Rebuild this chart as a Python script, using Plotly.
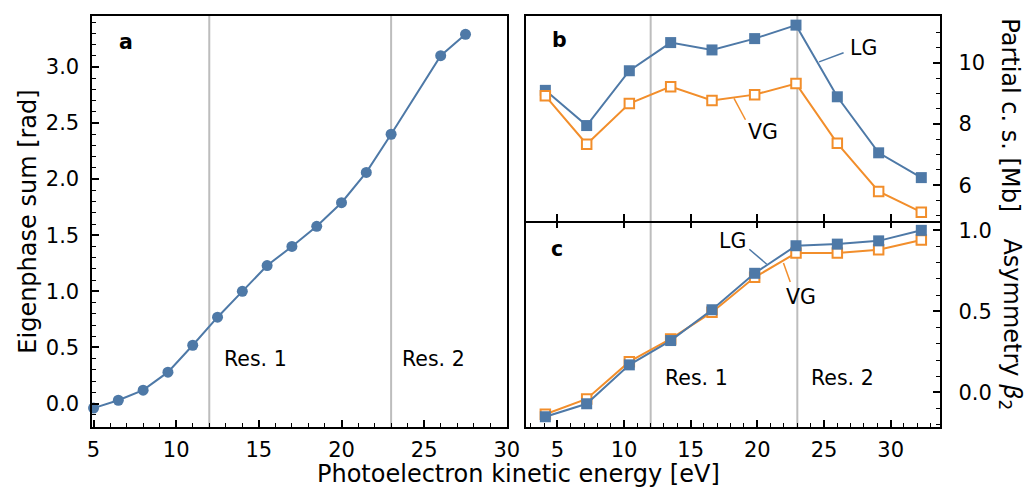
import plotly.graph_objects as go

# ---------------- data ----------------
# panel a: eigenphase sum
energy_a = [5.0, 6.5, 8.0, 9.5, 11.0, 12.5, 14.0, 15.5, 17.0, 18.5, 20.0, 21.5, 23.0, 26.0, 27.5]
eigenphase = [-0.04, 0.03, 0.12, 0.28, 0.52, 0.77, 1.00, 1.23, 1.40, 1.58, 1.79, 2.06, 2.40, 3.10, 3.29]

# panels b & c
energy_bc = [4.1, 7.2, 10.4, 13.5, 16.6, 19.8, 22.9, 26.0, 29.1, 32.3]
pcs_LG = [9.10, 7.95, 9.74, 10.66, 10.42, 10.79, 11.23, 8.89, 7.06, 6.25]
pcs_VG = [8.92, 7.34, 8.67, 9.22, 8.77, 8.96, 9.32, 7.37, 5.80, 5.12]
beta_LG = [-0.15, -0.07, 0.17, 0.32, 0.51, 0.735, 0.905, 0.915, 0.935, 1.00]
beta_VG = [-0.135, -0.04, 0.19, 0.33, 0.495, 0.71, 0.86, 0.86, 0.88, 0.94]

resonances = [12, 23]
res_labels = ["Res. 1", "Res. 2"]

BLUE = "#4e79a7"
ORANGE = "#f28e2b"
GRAY = "#bdbdbd"
FONT = "DejaVu Sans"

W, H = 1036, 488

def px(x):
    return x / W

def py(y):
    return 1 - y / H

fig = go.Figure()

fig.add_trace(go.Scatter(x=energy_a, y=eigenphase, mode="lines+markers",
                         line=dict(color=BLUE, width=2),
                         marker=dict(color=BLUE, size=11, symbol="circle"),
                         cliponaxis=False, xaxis="x", yaxis="y", showlegend=False))

fig.add_trace(go.Scatter(x=energy_bc, y=pcs_LG, mode="lines+markers",
                         line=dict(color=BLUE, width=2),
                         marker=dict(color=BLUE, size=11, symbol="square"),
                         cliponaxis=False, xaxis="x2", yaxis="y2", showlegend=False))
fig.add_trace(go.Scatter(x=energy_bc, y=pcs_VG, mode="lines+markers",
                         line=dict(color=ORANGE, width=2),
                         marker=dict(color="white", size=9.5, symbol="square",
                                     line=dict(color=ORANGE, width=2)),
                         cliponaxis=False, xaxis="x2", yaxis="y2", showlegend=False))

fig.add_trace(go.Scatter(x=energy_bc, y=beta_VG, mode="lines+markers",
                         line=dict(color=ORANGE, width=2),
                         marker=dict(color="white", size=9.5, symbol="square",
                                     line=dict(color=ORANGE, width=2)),
                         cliponaxis=False, xaxis="x3", yaxis="y3", showlegend=False))
fig.add_trace(go.Scatter(x=energy_bc, y=beta_LG, mode="lines+markers",
                         line=dict(color=BLUE, width=2),
                         marker=dict(color=BLUE, size=11, symbol="square"),
                         cliponaxis=False, xaxis="x3", yaxis="y3", showlegend=False))

# ---------------- layout ----------------
dom_a_x = [px(88), px(510.7)]
dom_r_x = [px(530), px(951.7)]
dom_b_y = [py(220), py(14)]
dom_c_y = [py(426.7), py(220)]
dom_a_y = [py(426.7), py(14)]

tickfont = dict(family=FONT, size=21, color="black")
base = dict(showline=True, linecolor="black", linewidth=2,
            showgrid=False, zeroline=False, ticks="inside", ticklen=7,
            tickwidth=1.5, tickcolor="black", tickfont=tickfont)
minor_style = dict(ticks="inside", ticklen=4, tick0=0, tickcolor="black", tickwidth=1.2)

fig.update_layout(
    width=W, height=H, margin=dict(l=0, r=0, t=0, b=0),
    paper_bgcolor="white", plot_bgcolor="white",
    font=dict(family=FONT, size=20, color="black"),
    xaxis=dict(domain=dom_a_x, anchor="y", range=[4.93, 30.03], mirror=True,
               tickvals=[5, 10, 15, 20, 25, 30], ticklabelstandoff=3,
               minor=dict(dtick=1, **minor_style), **base),
    yaxis=dict(domain=dom_a_y, anchor="x", range=[-0.208, 3.454], mirror=True,
               tickvals=[0, 0.5, 1.0, 1.5, 2.0, 2.5, 3.0], tickformat=".1f",
               ticklabelstandoff=7,
               minor=dict(dtick=0.1, **minor_style), **base),
    xaxis2=dict(domain=dom_r_x, anchor="y2", range=[2.67, 33.72], mirror=True,
                tickvals=[5, 10, 15, 20, 25, 30], showticklabels=False, **base),
    yaxis2=dict(domain=dom_b_y, anchor="x2", side="right", range=[4.83, 11.53], mirror=True,
                tickvals=[6, 8, 10], ticklabelstandoff=12,
                minor=dict(dtick=0.5, **minor_style), **base),
    xaxis3=dict(domain=dom_r_x, anchor="y3", range=[2.67, 33.72], mirror=False,
                tickvals=[5, 10, 15, 20, 25, 30], ticklabelstandoff=3,
                minor=dict(dtick=1, **minor_style), **base),
    xaxis4=dict(overlaying="x3", anchor="y3", side="top", range=[2.67, 33.72],
                tickvals=[5, 10, 15, 20, 25, 30], showticklabels=False,
                showline=False, showgrid=False, zeroline=False, ticks="inside",
                ticklen=7, tickwidth=1.5, tickcolor="black"),
    yaxis3=dict(domain=dom_c_y, anchor="x3", side="right", range=[-0.213, 1.057], mirror=True,
                tickvals=[0, 0.5, 1.0], tickformat=".1f", ticklabelstandoff=12,
                minor=dict(dtick=0.1, **minor_style), **base),
)
fig.add_trace(go.Scatter(x=[None], y=[None], xaxis="x4", yaxis="y3", showlegend=False, hoverinfo="skip"))

# resonance lines
shapes = []
for r in resonances:
    for xa, ya in [("x", "y"), ("x2", "y2"), ("x3", "y3")]:
        shapes.append(dict(type="line", xref=xa, yref=ya + " domain", x0=r, x1=r, y0=0, y1=1,
                           line=dict(color=GRAY, width=2), layer="below"))

ann = []
afont = dict(family=FONT, size=20.5, color="black")
C = dict(xanchor="center", yanchor="middle", showarrow=False)
# panel letters
ann.append(dict(x=6.95, y=3.22, xref="x", yref="y", text="<b>a</b>", font=afont, **C))
ann.append(dict(x=5.13, y=10.75, xref="x2", yref="y2", text="<b>b</b>", font=afont, **C))
ann.append(dict(x=4.99, y=0.885, xref="x3", yref="y3", text="<b>c</b>", font=afont, **C))
# resonance labels
for lbl, xa in zip(res_labels, [14.78, 25.56]):
    ann.append(dict(x=xa, y=0.40, xref="x", yref="y", text=lbl, font=afont, **C))
for lbl, xa in zip(res_labels, [15.41, 26.37]):
    ann.append(dict(x=xa, y=0.086, xref="x3", yref="y3", text=lbl, font=afont, **C))

# series labels with connector lines
def label(text, tx, ty, x0, y0, x1, y1, xa, ya, color):
    ann.append(dict(x=tx, y=ty, xref=xa, yref=ya, text=text, font=afont, **C))
    shapes.append(dict(type="line", xref=xa, yref=ya, x0=x0, y0=y0, x1=x1, y1=y1,
                       line=dict(color=color, width=1.5)))

label("LG", 28.0, 10.49, 26.47, 10.33, 24.63, 10.03, "x2", "y2", BLUE)
label("VG", 20.46, 7.73, 19.11, 8.14, 18.25, 8.84, "x2", "y2", ORANGE)
label("LG", 18.12, 0.934, 19.40, 0.883, 20.71, 0.791, "x3", "y3", BLUE)
label("VG", 23.28, 0.586, 22.47, 0.682, 21.96, 0.799, "x3", "y3", ORANGE)

# axis titles
tfont = dict(family=FONT, size=24, color="black")
ann.append(dict(x=px(522), y=py(474), xref="paper", yref="paper", text="Photoelectron kinetic energy [eV]",
                font=tfont, **C))
ann.append(dict(x=px(23), y=py(221), xref="paper", yref="paper", text="Eigenphase sum [rad]",
                font=tfont, textangle=-90, **C))
ann.append(dict(x=px(1023), y=py(114), xref="paper", yref="paper", text="Partial c. s. [Mb]",
                font=tfont, textangle=90, **C))
ann.append(dict(x=px(1023), y=py(324), xref="paper", yref="paper", text="Asymmetry <i>β</i><sub>2</sub>",
                font=tfont, textangle=90, **C))
fig.update_layout(annotations=ann, shapes=shapes)

fig.write_html("out.html")
